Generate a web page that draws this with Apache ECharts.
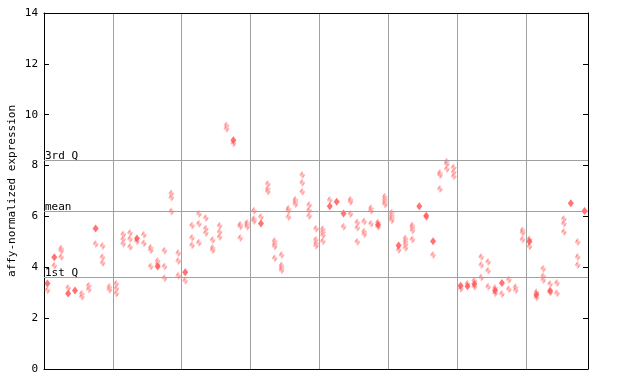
<!DOCTYPE html>
<html>
<head>
<meta charset="utf-8">
<script src="https://cdn.jsdelivr.net/npm/echarts@6/dist/echarts.min.js"></script>
<style>html,body{margin:0;padding:0;background:#fff}#c{width:640px;height:384px}</style>
</head>
<body>
<div id="c"></div>
<script>
// values per sample column (1..79): hollow (dithered) markers
const hollowCols = [
  [3.10],[4.06],[4.74,4.65,4.40],[3.19],[],[2.96,2.84],[3.27,3.13],[4.92],[4.84,4.39,4.17],[3.22,3.12],
  [3.35,3.17,2.97],[5.29,5.10,4.93],[5.35,5.11,4.80],[5.02],[5.28,4.95],[4.77,4.67,4.03],[4.25,4.13],[4.65,4.03,3.57],[6.90,6.74,6.19],[4.56,4.25,3.67],
  [3.47],[5.64,5.16,4.87],[6.10,5.71,4.96],[5.94,5.52,5.35],[5.07,4.76,4.67],[5.63,5.39,5.19],[9.58,9.45],[8.87],[5.67,5.60,5.15],[5.74,5.67,5.59],
  [6.22,5.90,5.82],[5.98],[7.28,7.08,6.98],[5.03,4.92,4.82,4.36],[4.48,4.07,3.97,3.88],[6.30,6.22,5.98],[6.66,6.57,6.48],[7.63,7.32,6.97],[6.45,6.24,6.02],[5.52,5.08,4.95,4.85],
  [5.50,5.38,5.26,5.02],[6.65],[],[5.59],[6.66,6.58,6.10],[5.76,5.55,5.00],[5.80,5.40,5.30],[6.32,6.22,5.71],[5.76,5.59],[6.77,6.66,6.56,6.47],
  [6.14,6.03,5.93,5.85],[4.68],[5.13,5.01,4.90,4.76],[5.64,5.56,5.45,5.09],[],[5.97],[4.48],[7.71,7.62,7.08],[8.15,8.06,7.87],[7.92,7.74,7.58],
  [3.16],[3.35],[3.47,3.23],[4.40,4.09,3.60],[4.21,3.86,3.23],[3.19,2.98],[2.95],[3.51,3.14],[3.21,3.10],[5.45,5.36,5.09],
  [5.10,4.82],[3.02,2.81],[3.94,3.65,3.50],[3.34,3.01],[3.38,2.98],[5.90,5.72,5.39],[],[4.99,4.40,4.09],[]
];
// solid markers per column
const solidCols = [
  [3.36],[4.39],[],[2.97],[3.09],[],[],[5.53],[],[],
  [],[],[],[5.13],[],[],[4.03],[],[],[],
  [3.80],[],[],[],[],[],[],[9.00],[],[],
  [],[5.72],[],[],[],[],[],[],[],[],
  [],[6.40],[6.58],[6.12],[],[],[],[],[5.67],[],
  [],[4.86],[],[],[6.40],[6.03],[5.02],[],[],[],
  [3.27],[3.25],[3.34],[],[],[3.09],[3.38],[],[],[],
  [5.01],[2.92],[],[3.08],[],[],[6.52],[],[6.21]
];
const quartiles = [
  {name: '3rd Q', value: 8.22},
  {name: 'mean', value: 6.21},
  {name: '1st Q', value: 3.62}
];
const yTicks = [0, 2, 4, 6, 8, 10, 12, 14];
const nCols = 79;
const groupSize = 10;

const RED = '#ff5050';
function checker() {
  const c = document.createElement('canvas');
  c.width = 2; c.height = 2;
  const g = c.getContext('2d');
  g.fillStyle = '#ffffff'; g.fillRect(0, 0, 2, 2);
  g.fillStyle = RED; g.fillRect(0, 0, 1, 1); g.fillRect(1, 1, 1, 1);
  return c;
}

const hollowData = [], solidData = [];
hollowCols.forEach((vs, i) => vs.forEach(v => hollowData.push([i + 0.5, v])));
solidCols.forEach((vs, i) => vs.forEach(v => solidData.push([i + 0.5, v])));

const FONT = 'DejaVu Sans Mono';
const chart = echarts.init(document.getElementById('c'), null, {renderer: 'canvas'});
chart.setOption({
  animation: false,
  backgroundColor: '#fff',
  grid: {left: 44, right: 52, top: 13, bottom: 15, containLabel: false, outerBoundsMode: 'none'},
  xAxis: [{
    type: 'value', min: 0, max: nCols, interval: groupSize, position: 'bottom',
    axisLine: {show: true, onZero: false, lineStyle: {color: '#000', width: 1}},
    axisTick: {show: false}, axisLabel: {show: false},
    splitLine: {show: true, lineStyle: {color: '#a0a0a0', width: 1}}
  }, {
    type: 'value', min: 0, max: nCols, position: 'top',
    axisLine: {show: true, onZero: false, lineStyle: {color: '#000', width: 1}},
    axisTick: {show: false}, axisLabel: {show: false}, splitLine: {show: false}
  }],
  yAxis: [{
    type: 'value', min: yTicks[0], max: yTicks[yTicks.length - 1], interval: 2, position: 'left',
    name: 'affy-normalized expression', nameLocation: 'middle', nameGap: 26, nameMoveOverlap: false,
    nameTextStyle: {fontFamily: FONT, fontSize: 11, color: '#000'},
    axisLine: {show: true, onZero: false, lineStyle: {color: '#000', width: 1}},
    axisTick: {show: true, inside: true, length: 5, lineStyle: {color: '#000'}},
    axisLabel: {show: true, margin: 6, fontFamily: FONT, fontSize: 11, color: '#000'},
    splitLine: {show: false}
  }, {
    type: 'value', min: yTicks[0], max: yTicks[yTicks.length - 1], interval: 2, position: 'right',
    axisLine: {show: true, onZero: false, lineStyle: {color: '#000', width: 1}},
    axisTick: {show: true, inside: true, length: 5, lineStyle: {color: '#000'}},
    axisLabel: {show: false}, splitLine: {show: false}
  }],
  series: [{
    type: 'line', data: [], xAxisIndex: 0, yAxisIndex: 0, silent: true,
    markLine: {
      silent: true, symbol: 'none', animation: false,
      lineStyle: {color: '#a0a0a0', width: 1, type: 'solid'},
      label: {show: true, position: 'insideStartTop', formatter: '{b}', distance: [1, -2],
              fontFamily: FONT, fontSize: 11, color: '#000'},
      emphasis: {disabled: true},
      data: quartiles.map(q => ({name: q.name, yAxis: q.value}))
    }
  }, {
    type: 'scatter', data: hollowData, symbol: 'diamond', symbolSize: [6, 8],
    itemStyle: {color: {image: checker(), repeat: 'repeat'}, borderWidth: 0}, z: 3
  }, {
    type: 'scatter', data: solidData, symbol: 'diamond', symbolSize: [6, 8],
    itemStyle: {color: RED, borderWidth: 0}, z: 4
  }]
});
</script>
</body>
</html>
